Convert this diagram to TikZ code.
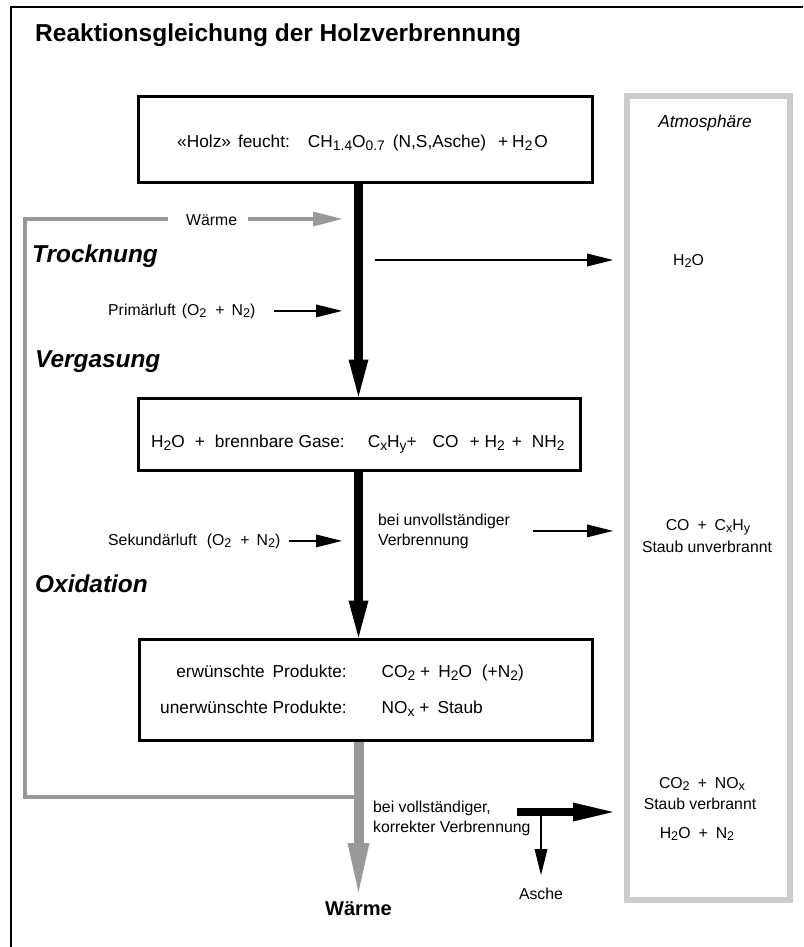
\documentclass[tikz,border=0pt]{standalone}
\usepackage{fontspec}
\setmainfont{Liberation Sans}
\usepackage{tikz}
\usetikzlibrary{arrows.meta}
\usetikzlibrary{positioning}
\usepackage{xcolor}

\definecolor{hellgrau}{gray}{0.8}
\definecolor{mittelgrau}{gray}{0.6}

\newcommand{\klein}{\fontsize{15.8pt}{20pt}\selectfont}
\newcommand{\mittel}{\fontsize{17.3pt}{21pt}\selectfont}
\newcommand{\phasefont}{\fontsize{24.4pt}{28pt}\selectfont\bfseries\itshape}
\newcommand{\titelfont}{\fontsize{24.5pt}{28pt}\selectfont\bfseries}
\newcommand{\waermefont}{\fontsize{20pt}{24pt}\selectfont\bfseries}
\newcommand{\tsub}[1]{\raisebox{-0.35ex}{\scalebox{0.8}{#1}}}

\begin{document}
\begin{tikzpicture}[x=1pt,y=-1pt,
			Box/.style={rectangle,draw=black,line width=3pt,inner sep=0pt},
			Atmo/.style={rectangle,draw=hellgrau,line width=6pt,inner sep=0pt},
			T/.style={inner sep=0pt,font=\klein},
			M/.style={inner sep=0pt,font=\mittel},
			Phase/.style={inner sep=0pt,font=\phasefont,anchor=base west},
			Haupt/.style={line width=9pt,-{Triangle[length=37pt,width=20pt,line width=0pt]}},
			GrauDick/.style={line width=10pt,draw=mittelgrau,-{Triangle[length=49pt,width=22pt,line width=0pt]}},
			Grau/.style={line width=4pt,draw=mittelgrau},
			GrauPfeil/.style={Grau,-{Triangle[length=29pt,width=15pt,line width=0pt]}},
			Pfeil/.style={line width=1.6pt,-{Triangle[length=26pt,width=13pt,line width=0pt]}},
			Dick/.style={line width=8pt,-{Triangle[length=40pt,width=19pt,line width=0pt]}},
			]
			
			\useasboundingbox (0,0) rectangle (803,947);
			
			%frame
			\draw[line width=1.8pt] (11,947) -- (11,7) -- (803,7);
			%title
			\node[anchor=base west,inner sep=0pt,font=\titelfont] (titel) at (35,42) {Reaktionsgleichung der Holzverbrennung};
			
			%boxes
			\node[Box,minimum width=454pt,minimum height=85pt] (holz) at (365,139.5) {};
			\node[Box,minimum width=442pt,minimum height=72pt] (gas) at (359,434) {};
			\node[Box,minimum width=453pt,minimum height=101pt] (oxi) at (365.5,689.5) {};
			\node[Atmo,minimum width=163pt,minimum height=804pt] (atmo) at (708.5,498) {};
			
			%box texts
			\node[M,anchor=base west] (holztext) at (177,147) {«Holz»\hspace{7pt}feucht:\hspace{18pt}CH\tsub{1.4}O\tsub{0.7}\hspace{8pt}(N,S,Asche)\hspace{12pt}+\hspace{4pt}H\tsub{2}\hspace{2pt}O};
			\node[M,anchor=base west] (gastext) at (151,447) {H\tsub{2}O\hspace{10pt}+\hspace{10pt}brennbare Gase:\hspace{23pt}C\tsub{x}H\tsub{y}+\hspace{16pt}CO\hspace{11pt}+ H\tsub{2}\hspace{7pt}+\hspace{10pt}NH\tsub{2}};
			\node[M,anchor=base west] (produkte) at (160,677) {\begin{tabular}[t]{@{}r@{\hspace{35pt}}l@{}}
					erwünschte\hspace{8pt}Produkte: & CO\tsub{2} +\hspace{8pt}H\tsub{2}O\hspace{10pt}(+N\tsub{2})\\[15pt]
					unerwünschte Produkte: & NO\tsub{x} +\hspace{8pt}Staub
				\end{tabular}};
			
			%left side
			\node[T,anchor=base west] (waermeA) at (186,225) {Wärme};
			\node[Phase] (trocknung) at (32,262) {Trocknung};
			\node[T,anchor=base west] (primaer) at (108,315) {Primärluft\hspace{6pt}(O\tsub{2}\hspace{9pt}+\hspace{7pt}N\tsub{2})};
			\node[Phase] (vergasung) at (35,367) {Vergasung};
			\node[T,anchor=base west] (sekundaer) at (108,545) {Sekundärluft\hspace{10pt}(O\tsub{2}\hspace{9pt}+\hspace{7pt}N\tsub{2})};
			\node[Phase] (oxidation) at (35,592) {Oxidation};
			\node[T,anchor=base west,align=left] (unvoll) at (378,545) {bei unvollständiger\\Verbrennung};
			\node[T,anchor=base west,align=left] (voll) at (373,832) {bei vollständiger,\\korrekter Verbrennung};
			
			%atmosphere
			\node[M,font=\mittel\itshape,anchor=base] (atmotitel) at (705,128) {Atmosphäre};
			\node[T,anchor=base west] (dampf) at (673,265) {H\tsub{2}O};
			\node[T,anchor=base] (co) at (708,530) {CO\hspace{8pt}+\hspace{8pt}C\tsub{x}H\tsub{y}};
			\node[T,anchor=base] (staubA) at (707,552) {Staub unverbrannt};
			\node[T,anchor=base] (co2) at (702,788) {CO\tsub{2}\hspace{8pt}+\hspace{8pt}NO\tsub{x}};
			\node[T,anchor=base] (staubB) at (700,809) {Staub verbrannt};
			\node[T,anchor=base] (h2on2) at (697,838) {H\tsub{2}O\hspace{8pt}+\hspace{8pt}N\tsub{2}};
			
			%free ends
			\coordinate (achse) at (358.5,0);
			\coordinate (ecke) at (25,219);
			\coordinate (rueck) at (358.5,797);
			\coordinate (waermeEnde) at (358.5,892);
			\coordinate (einEnde) at (342,0);
			\coordinate (ausEnde) at (613,0);
			\coordinate (dampfStart) at (375,260);
			\coordinate (dickStart) at (517,812);
			\coordinate (abzweig) at (541,812);
			\coordinate (ascheEnde) at (541,875);
			
			%main flow
			\draw[Haupt] (holz.south -| achse) -- (gas.north -| achse);
			\draw[Haupt] (gas.south -| achse) -- (oxi.north -| achse);
			\draw[GrauDick] (oxi.south -| achse) -- (waermeEnde);
			\node[inner sep=0pt,font=\waermefont,below=9pt of waermeEnde] (waermeB) {Wärme};
			
			%heat back
			\draw[Grau,shorten >=18pt] (rueck) -| (ecke) -- (waermeA.west |- ecke);
			\draw[GrauPfeil,shorten <=11pt] (waermeA.east |- ecke) -- (einEnde |- ecke);
			
			%air in
			\draw[Pfeil] ([xshift=18pt]primaer.east) -- (einEnde |- primaer.east);
			\draw[Pfeil] ([xshift=8pt]sekundaer.east) -- (einEnde |- sekundaer.east);
			
			%to atmosphere
			\draw[Pfeil] (dampfStart) -- (ausEnde |- dampfStart);
			\draw[Pfeil] ([xshift=23pt]unvoll.east) -- (ausEnde |- unvoll.east);
			\draw[Dick] (dickStart) -- (ausEnde |- dickStart);
			\draw[Pfeil] (abzweig) -- (ascheEnde);
			\node[T,below=13pt of ascheEnde] (asche) {Asche};
			
\end{tikzpicture}
\end{document}
